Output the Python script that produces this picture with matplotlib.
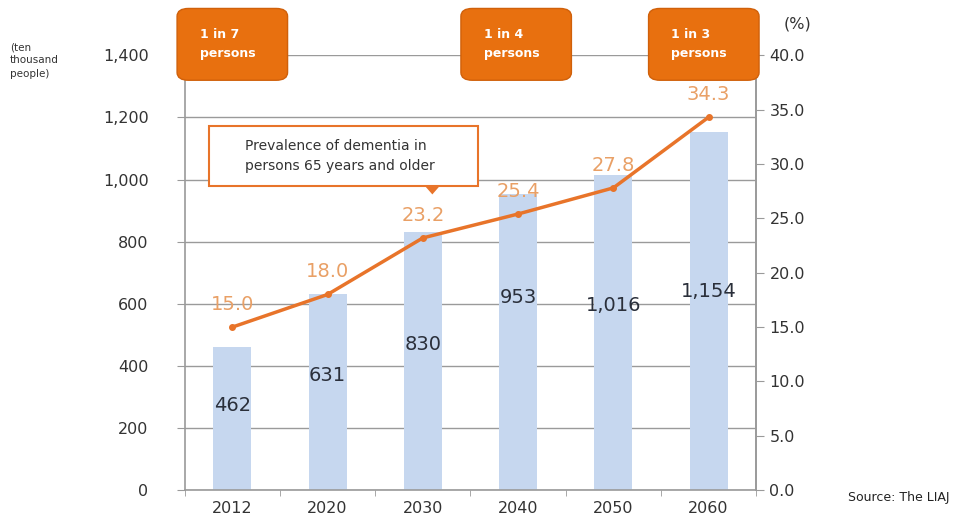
import numpy as np
import matplotlib.pyplot as plt
from matplotlib.patches import FancyBboxPatch, Polygon

years = ['2012', '2020', '2030', '2040', '2050', '2060']
patients = [462, 631, 830, 953, 1016, 1154]          # ten thousand people
prevalence = [15.0, 18.0, 23.2, 25.4, 27.8, 34.3]    # %
ratio_labels = ['1 in 7\npersons', '1 in 4\npersons', '1 in 3\npersons']

# where the count labels sit inside the bars (left-axis units)
count_label_y = [272, 370, 470, 620, 595, 640]

bar_col = '#c6d7ef'
line_col = '#e8742a'
lab_col = '#e9a066'
grid_col = '#9a9a9a'
box_col = '#e8700f'

fig = plt.figure(figsize=(9.67, 5.26), dpi=100)
ax = fig.add_axes([0.191, 0.068, 0.591, 0.827])
x = np.arange(len(years))

ax.bar(x, patients, width=0.4, color=bar_col, zorder=2)
ax.set_xlim(-0.5, len(years) - 0.5)
ax.set_ylim(0, 1400)
ax.set_yticks(np.arange(0, 1401, 200))
ax.set_yticklabels([f'{v:,}' for v in range(0, 1401, 200)])
ax.set_xticks(x)
ax.set_xticklabels(years)
ax.set_xticks(np.arange(-0.5, len(years)), minor=True)
ax.tick_params(axis='x', which='major', length=0, pad=8)
ax.tick_params(axis='x', which='minor', length=4, color=grid_col, direction='out')
ax.tick_params(axis='y', length=6, color=grid_col, pad=20, labelsize=11.5, labelcolor='#333333')
ax.tick_params(axis='x', labelsize=11.5, labelcolor='#333333')
ax.grid(axis='y', color=grid_col, lw=1, zorder=0)
ax.spines['top'].set_visible(False)
for s in ['left', 'right', 'bottom']:
    ax.spines[s].set_color(grid_col)
    ax.spines[s].set_linewidth(1.2)

for xi, v, ly in zip(x, patients, count_label_y):
    ax.text(xi, ly, f'{v:,}', ha='center', va='center', fontsize=14,
            color='#2a2f3a', zorder=5)

ax2 = ax.twinx()
ax2.set_ylim(0, 40)
ax2.set_yticks(np.arange(0, 41, 5))
ax2.set_yticklabels([f'{v:.1f}' for v in np.arange(0, 41, 5)])
ax2.tick_params(axis='y', length=6, color=grid_col, labelsize=11.5, labelcolor='#333333')
for s in ['top', 'left', 'bottom']:
    ax2.spines[s].set_visible(False)
ax2.spines['right'].set_color(grid_col)
ax2.spines['right'].set_linewidth(1.2)
ax2.plot(x, prevalence, color=line_col, lw=2.5, marker='o', ms=4, zorder=4)
for xi, v in zip(x, prevalence):
    ax2.text(xi, v + 1.2, f'{v:.1f}', ha='center', va='bottom', fontsize=14,
             color=lab_col, zorder=5)

# ratio boxes along the top
box_x = [0.0, 2.98, 4.95]
for bx, txt in zip(box_x, ratio_labels):
    ax2.add_patch(FancyBboxPatch((bx - 0.58, 37.7), 1.16, 6.6,
                                 boxstyle='round,pad=0,rounding_size=0.12',
                                 mutation_aspect=6, fc=box_col, ec='#d0600a',
                                 lw=1, zorder=6, clip_on=False))
    ax2.text(bx - 0.34, 41.0, txt, ha='left', va='center', fontsize=9,
             color='white', fontweight='bold', zorder=7, linespacing=1.6)

# callout box for the line
ax2.add_patch(FancyBboxPatch((-0.24, 28.0), 2.82, 5.5, boxstyle='square,pad=0',
                             fc='white', ec=line_col, lw=1.5, zorder=6))
ax2.add_patch(Polygon([[2.02, 28.0], [2.18, 28.0], [2.1, 27.2]], closed=True,
                      fc=line_col, ec='none', zorder=6))
ax2.text(0.13, 30.75, 'Prevalence of dementia in\npersons 65 years and older',
         ha='left', va='center', fontsize=10, color='#333333', zorder=7,
         linespacing=1.6)

fig.text(0.01, 0.885, '(ten\nthousand\npeople)', fontsize=7.5, color='#333333',
         va='center', linespacing=1.4)
fig.text(0.81, 0.955, '(%)', fontsize=11.5, color='#333333', va='center')
fig.text(0.877, 0.055, 'Source: The LIAJ', fontsize=9, color='#222222', va='center')

fig.savefig('out.png', dpi=100)
